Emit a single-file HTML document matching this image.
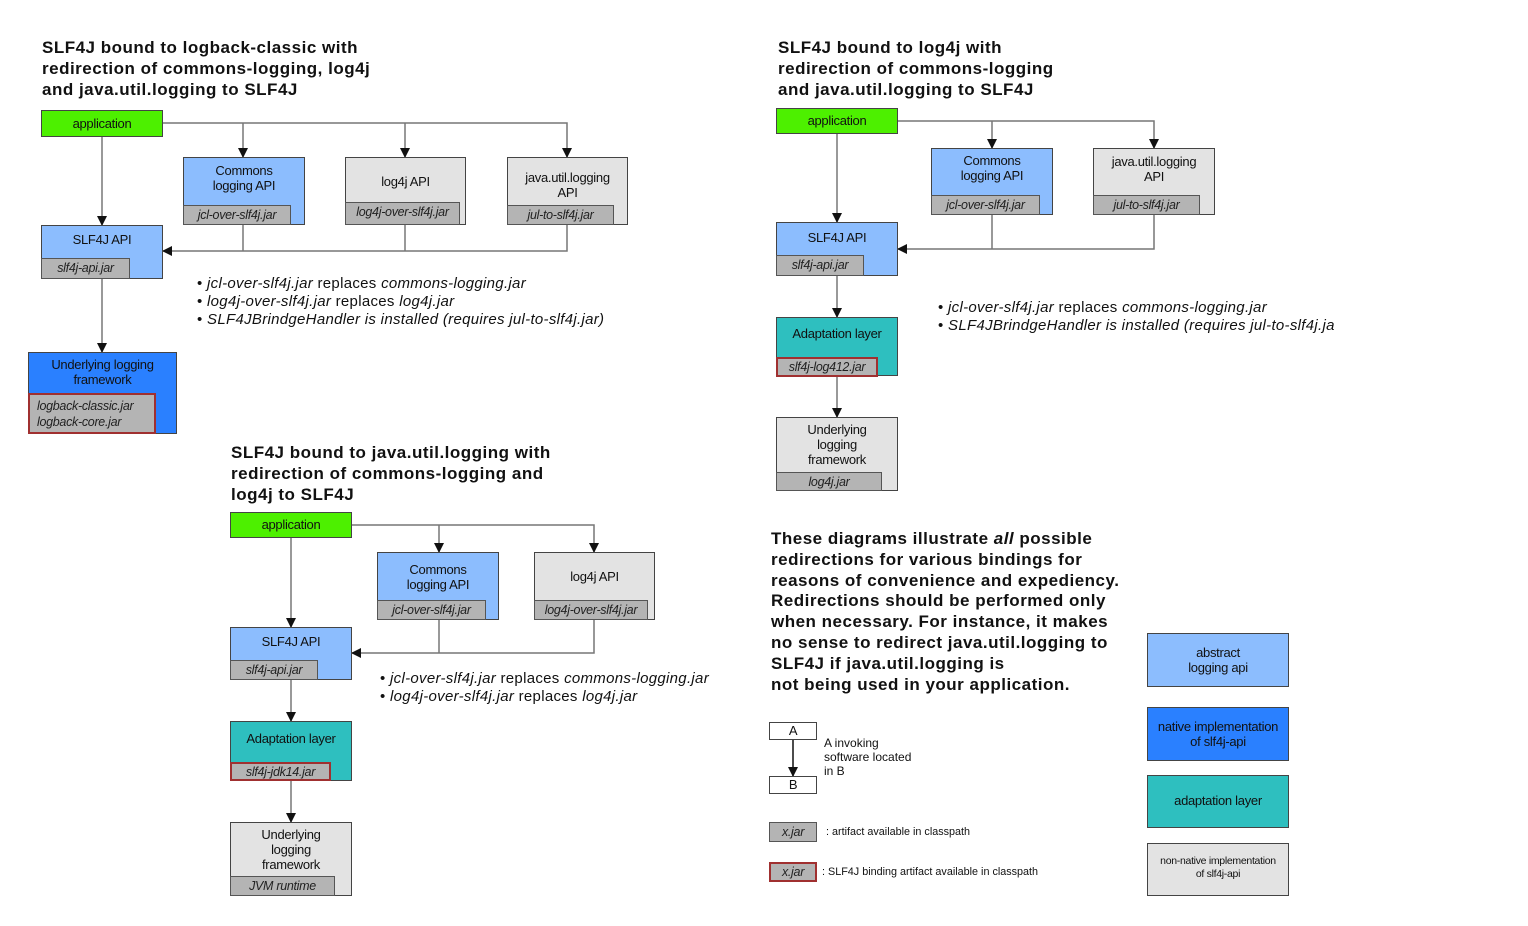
<!DOCTYPE html>
<html><head><meta charset="utf-8"><style>
body{margin:0;width:1528px;height:926px;background:#fff;position:relative;overflow:hidden;font-family:"Liberation Sans",sans-serif;color:#111}
.b{position:absolute;border:1px solid #444;box-sizing:border-box;font-size:13px;text-align:center;line-height:15px;letter-spacing:-0.3px}
.j{position:absolute;background:#b4b4b4;border:1px solid #555;box-sizing:border-box;font-size:12.5px;font-style:italic;text-align:center;line-height:18px;letter-spacing:-0.3px;color:#222}
.r{border:2px solid #a03030;line-height:16px}
.g{background:#4df000}.lb{background:#8cbdfe}.gr{background:#e3e3e3}.bl{background:#2a80ff}.t{background:#2ebfbf}
.ti{position:absolute;font-weight:bold;font-size:17px;letter-spacing:0.5px;line-height:21px;white-space:nowrap}
.bu{position:absolute;font-size:15px;line-height:18px;white-space:nowrap;letter-spacing:0.3px}
.bu i{font-style:italic}
.s{position:absolute;font-size:12px;line-height:14px;white-space:nowrap}
svg{position:absolute;left:0;top:0}
</style></head><body>
<svg width="1528" height="926">
<defs><marker id="a" markerWidth="10" markerHeight="10" refX="9" refY="5" orient="auto" markerUnits="userSpaceOnUse"><path d="M0,0L10,5L0,10z" fill="#111"/></marker></defs>
<g stroke="#777" stroke-width="1.5" fill="none" marker-end="url(#a)">
<path d="M102,137V225"/><path d="M163,123H567V157"/><path d="M243,123V157"/><path d="M405,123V157"/>
<path d="M567,225V251H163"/><path d="M102,279V352"/>
<path d="M837,134V222"/><path d="M898,121H1154V148"/><path d="M992,121V148"/>
<path d="M1154,215V249H898"/><path d="M837,276V317"/><path d="M837,376V417"/>
<path d="M291,538V627"/><path d="M352,525H594V552"/><path d="M439,525V552"/>
<path d="M594,620V653H352"/><path d="M291,680V721"/><path d="M291,781V822"/>
<path d="M793,740V776" stroke="#111"/>
</g>
<g stroke="#777" stroke-width="1.5"><path d="M243,225V251"/><path d="M405,225V251"/><path d="M992,215V249"/><path d="M439,620V653"/></g>
</svg>

<div class="ti" style="left:42px;top:37px">SLF4J bound to logback-classic with<br>redirection of commons-logging, log4j<br>and java.util.logging to SLF4J</div>
<div class="ti" style="left:778px;top:37px">SLF4J bound to log4j with<br>redirection of commons-logging<br>and java.util.logging to SLF4J</div>
<div class="ti" style="left:231px;top:442px">SLF4J bound to java.util.logging with<br>redirection of commons-logging and<br>log4j to SLF4J</div>
<div class="ti" style="left:771px;top:529px;line-height:20.8px">These diagrams illustrate <i>all</i> possible<br>redirections for various bindings for<br>reasons of convenience and expediency.<br>Redirections should be performed only<br>when necessary. For instance, it makes<br>no sense to redirect java.util.logging to<br>SLF4J if java.util.logging is<br>not being used in your application.</div>

<div class="b g" style="left:41px;top:110px;width:122px;height:27px;line-height:25px">application</div>
<div class="b lb" style="left:183px;top:157px;width:122px;height:68px;padding-top:5px">Commons<br>logging API</div>
<div class="j" style="left:183px;top:205px;width:108px;height:20px">jcl-over-slf4j.jar</div>
<div class="b gr" style="left:345px;top:157px;width:121px;height:68px;padding-top:16px">log4j API</div>
<div class="j" style="left:345px;top:202px;width:115px;height:23px">log4j-over-slf4j.jar</div>
<div class="b gr" style="left:507px;top:157px;width:121px;height:68px;padding-top:12px">java.util.logging<br>API</div>
<div class="j" style="left:507px;top:205px;width:107px;height:20px">jul-to-slf4j.jar</div>
<div class="b lb" style="left:41px;top:225px;width:122px;height:54px;padding-top:6px">SLF4J API</div>
<div class="j" style="left:41px;top:258px;width:89px;height:21px">slf4j-api.jar</div>
<div class="b bl" style="left:28px;top:352px;width:149px;height:82px;padding-top:4px">Underlying logging<br>framework</div>
<div class="j r" style="left:28px;top:393px;width:128px;height:41px;text-align:left;padding-left:7px;line-height:16px;padding-top:3px">logback-classic.jar<br>logback-core.jar</div>
<div class="bu" style="left:197px;top:275px">• <i>jcl-over-slf4j.jar</i> replaces <i>commons-logging.jar</i><br>• <i>log4j-over-slf4j.jar</i> replaces <i>log4j.jar</i><br>• <i>SLF4JBrindgeHandler is installed (requires jul-to-slf4j.jar)</i></div>

<div class="b g" style="left:776px;top:108px;width:122px;height:26px;line-height:24px">application</div>
<div class="b lb" style="left:931px;top:148px;width:122px;height:67px;padding-top:4px">Commons<br>logging API</div>
<div class="j" style="left:931px;top:195px;width:109px;height:20px">jcl-over-slf4j.jar</div>
<div class="b gr" style="left:1093px;top:148px;width:122px;height:67px;padding-top:5px">java.util.logging<br>API</div>
<div class="j" style="left:1093px;top:195px;width:107px;height:20px">jul-to-slf4j.jar</div>
<div class="b lb" style="left:776px;top:222px;width:122px;height:54px;padding-top:7px">SLF4J API</div>
<div class="j" style="left:776px;top:255px;width:88px;height:21px">slf4j-api.jar</div>
<div class="b t" style="left:776px;top:317px;width:122px;height:59px;padding-top:8px">Adaptation layer</div>
<div class="j r" style="left:776px;top:357px;width:102px;height:20px">slf4j-log412.jar</div>
<div class="b gr" style="left:776px;top:417px;width:122px;height:74px;padding-top:4px">Underlying<br>logging<br>framework</div>
<div class="j" style="left:776px;top:472px;width:106px;height:19px">log4j.jar</div>
<div class="bu" style="left:938px;top:299px">• <i>jcl-over-slf4j.jar</i> replaces <i>commons-logging.jar</i><br>• <i>SLF4JBrindgeHandler is installed (requires jul-to-slf4j.ja</i></div>

<div class="b g" style="left:230px;top:512px;width:122px;height:26px;line-height:24px">application</div>
<div class="b lb" style="left:377px;top:552px;width:122px;height:68px;padding-top:9px">Commons<br>logging API</div>
<div class="j" style="left:377px;top:600px;width:109px;height:20px">jcl-over-slf4j.jar</div>
<div class="b gr" style="left:534px;top:552px;width:121px;height:68px;padding-top:16px">log4j API</div>
<div class="j" style="left:534px;top:600px;width:114px;height:20px">log4j-over-slf4j.jar</div>
<div class="b lb" style="left:230px;top:627px;width:122px;height:53px;padding-top:6px">SLF4J API</div>
<div class="j" style="left:230px;top:660px;width:88px;height:20px">slf4j-api.jar</div>
<div class="b t" style="left:230px;top:721px;width:122px;height:60px;padding-top:9px">Adaptation layer</div>
<div class="j r" style="left:230px;top:762px;width:101px;height:19px">slf4j-jdk14.jar</div>
<div class="b gr" style="left:230px;top:822px;width:122px;height:74px;padding-top:4px">Underlying<br>logging<br>framework</div>
<div class="j" style="left:230px;top:876px;width:105px;height:20px">JVM runtime</div>
<div class="bu" style="left:380px;top:670px">• <i>jcl-over-slf4j.jar</i> replaces <i>commons-logging.jar</i><br>• <i>log4j-over-slf4j.jar</i> replaces <i>log4j.jar</i></div>

<div class="b" style="left:769px;top:722px;width:48px;height:18px;background:#fff;line-height:16px">A</div>
<div class="b" style="left:769px;top:776px;width:48px;height:18px;background:#fff;line-height:16px">B</div>
<div class="s" style="left:824px;top:736px">A invoking<br>software located<br>in B</div>
<div class="j" style="left:769px;top:822px;width:48px;height:20px">x.jar</div>
<div class="s" style="left:826px;top:825px;font-size:10.8px">: artifact available in classpath</div>
<div class="j r" style="left:769px;top:862px;width:48px;height:20px">x.jar</div>
<div class="s" style="left:822px;top:865px;font-size:10.8px">: SLF4J binding artifact available in classpath</div>
<div class="b lb" style="left:1147px;top:633px;width:142px;height:54px;padding-top:11px">abstract<br>logging api</div>
<div class="b bl" style="left:1147px;top:707px;width:142px;height:54px;padding-top:11px">native implementation<br>of slf4j-api</div>
<div class="b t" style="left:1147px;top:775px;width:142px;height:53px;padding-top:17px">adaptation layer</div>
<div class="b gr" style="left:1147px;top:843px;width:142px;height:53px;padding-top:11px;font-size:10.5px;line-height:13px">non-native implementation<br>of slf4j-api</div>
</body></html>
